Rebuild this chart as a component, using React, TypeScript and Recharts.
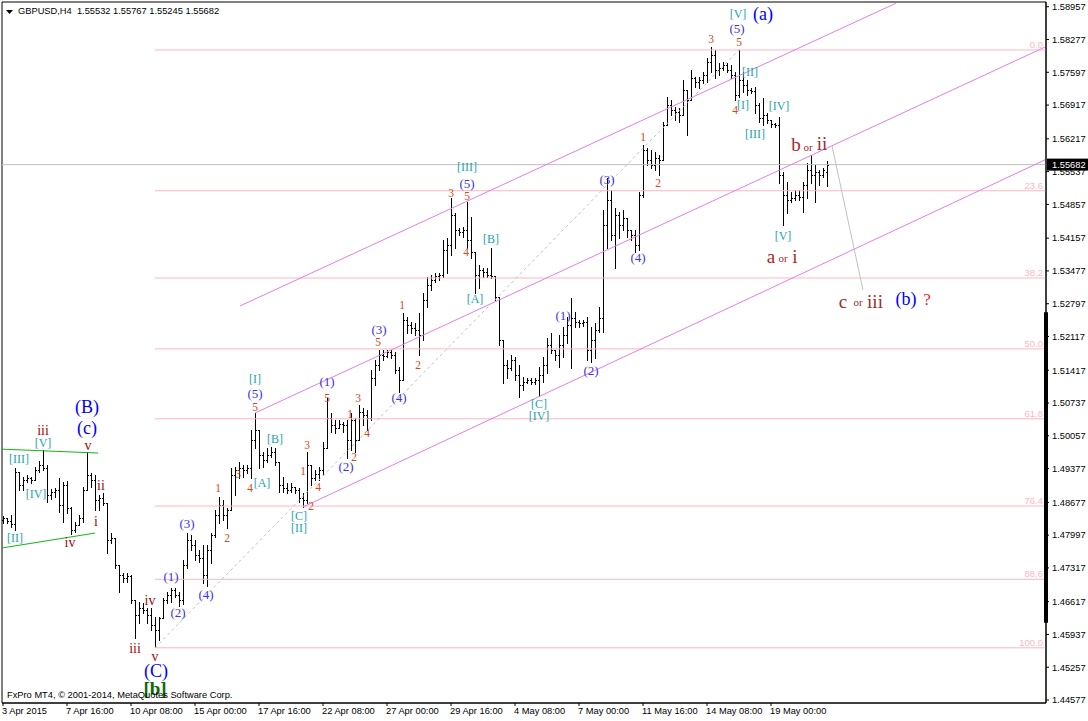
import React from 'react';
import {
  ComposedChart,
  Bar,
  XAxis,
  YAxis,
  ReferenceLine,
  ReferenceDot,
  ReferenceArea,
} from 'recharts';

// GBPUSD H4 bars (3 Apr – 21 May 2015)
const OPEN = [
  1.4831, 1.4835, 1.4829, 1.4823, 1.4931, 1.4904, 1.4914, 1.4918, 1.4914, 1.4935,
  1.4945, 1.4939, 1.4883, 1.4889, 1.4893, 1.4862, 1.4904, 1.4856, 1.4810, 1.4821,
  1.4835, 1.4893, 1.4924, 1.4914, 1.4873, 1.4877, 1.4866, 1.4790, 1.4794, 1.4738,
  1.4717, 1.4711, 1.4715, 1.4665, 1.4634, 1.4649, 1.4644, 1.4634, 1.4613, 1.4603,
  1.4628, 1.4665, 1.4676, 1.4686, 1.4676, 1.4665, 1.4738, 1.4790, 1.4779, 1.4758,
  1.4752, 1.4717, 1.4769, 1.4800, 1.4841, 1.4862, 1.4841, 1.4852, 1.4924, 1.4935,
  1.4939, 1.4935, 1.4939, 1.4997, 1.5018, 1.4966, 1.4956, 1.4966, 1.4972, 1.4951,
  1.4904, 1.4897, 1.4893, 1.4900, 1.4893, 1.4877, 1.4873, 1.4945, 1.4918, 1.4927,
  1.4935, 1.4980, 1.5043, 1.5028, 1.5022, 1.5030, 1.5028, 1.4997, 1.5039, 1.4997,
  1.5055, 1.5049, 1.5043, 1.5126, 1.5153, 1.5173, 1.5171, 1.5180, 1.5173, 1.5142,
  1.5121, 1.5246, 1.5236, 1.5229, 1.5225, 1.5215, 1.5287, 1.5319, 1.5329, 1.5337,
  1.5339, 1.5391, 1.5401, 1.5464, 1.5433, 1.5429, 1.5433, 1.5412, 1.5387, 1.5339,
  1.5350, 1.5346, 1.5339, 1.5337, 1.5294, 1.5204, 1.5153, 1.5146, 1.5163, 1.5132,
  1.5111, 1.5117, 1.5121, 1.5117, 1.5121, 1.5132, 1.5153, 1.5194, 1.5184, 1.5173,
  1.5194, 1.5215, 1.5236, 1.5250, 1.5242, 1.5240, 1.5242, 1.5184, 1.5204, 1.5225,
  1.5250, 1.5443, 1.5495, 1.5422, 1.5464, 1.5443, 1.5457, 1.5433, 1.5422, 1.5401,
  1.5505, 1.5599, 1.5578, 1.5567, 1.5582, 1.5578, 1.5650, 1.5692, 1.5682, 1.5677,
  1.5671, 1.5723, 1.5702, 1.5748, 1.5740, 1.5744, 1.5754, 1.5781, 1.5796, 1.5764,
  1.5769, 1.5775, 1.5764, 1.5754, 1.5713, 1.5744, 1.5733, 1.5723, 1.5721, 1.5692,
  1.5665, 1.5671, 1.5661, 1.5652, 1.5650, 1.5547, 1.5505, 1.5495, 1.5499, 1.5505,
  1.5501, 1.5526, 1.5557, 1.5547, 1.5553, 1.5547, 1.55532,
];

const HIGH = [
  1.4839, 1.4835, 1.4841, 1.4939, 1.4931, 1.4920, 1.4924, 1.4920, 1.4941, 1.4953,
  1.4976, 1.4945, 1.4895, 1.4897, 1.4918, 1.4910, 1.4912, 1.4858, 1.4827, 1.4841,
  1.4900, 1.4972, 1.4929, 1.4924, 1.4883, 1.4887, 1.4866, 1.4804, 1.4794, 1.4738,
  1.4721, 1.4721, 1.4717, 1.4665, 1.4661, 1.4659, 1.4649, 1.4649, 1.4630, 1.4630,
  1.4669, 1.4682, 1.4690, 1.4690, 1.4682, 1.4748, 1.4804, 1.4800, 1.4790, 1.4769,
  1.4779, 1.4779, 1.4804, 1.4852, 1.4879, 1.4873, 1.4856, 1.4939, 1.4941, 1.4951,
  1.4945, 1.4945, 1.5018, 1.5053, 1.5018, 1.4972, 1.4980, 1.4983, 1.4980, 1.4951,
  1.4920, 1.4908, 1.4908, 1.4900, 1.4897, 1.4887, 1.4972, 1.4945, 1.4935, 1.4941,
  1.4993, 1.5084, 1.5053, 1.5039, 1.5039, 1.5034, 1.5039, 1.5053, 1.5043, 1.5070,
  1.5063, 1.5059, 1.5142, 1.5163, 1.5184, 1.5184, 1.5184, 1.5184, 1.5180, 1.5148,
  1.5260, 1.5252, 1.5242, 1.5240, 1.5260, 1.5302, 1.5335, 1.5339, 1.5343, 1.5343,
  1.5412, 1.5416, 1.5499, 1.5468, 1.5437, 1.5439, 1.5491, 1.5460, 1.5387, 1.5360,
  1.5354, 1.5354, 1.5395, 1.5337, 1.5294, 1.5204, 1.5163, 1.5173, 1.5169, 1.5153,
  1.5128, 1.5126, 1.5126, 1.5126, 1.5148, 1.5169, 1.5209, 1.5219, 1.5184, 1.5215,
  1.5231, 1.5252, 1.5292, 1.5263, 1.5246, 1.5246, 1.5252, 1.5231, 1.5240, 1.5273,
  1.5474, 1.5540, 1.5516, 1.5478, 1.5470, 1.5474, 1.5457, 1.5433, 1.5433, 1.5511,
  1.5609, 1.5603, 1.5599, 1.5594, 1.5588, 1.5657, 1.5708, 1.5702, 1.5688, 1.5686,
  1.5744, 1.5723, 1.5764, 1.5750, 1.5750, 1.5760, 1.5789, 1.5812, 1.5806, 1.5779,
  1.5781, 1.5779, 1.5775, 1.5760, 1.5806, 1.5760, 1.5744, 1.5727, 1.5729, 1.5696,
  1.5706, 1.5675, 1.5661, 1.5655, 1.5667, 1.5553, 1.5532, 1.5511, 1.5516, 1.5516,
  1.5532, 1.5572, 1.5588, 1.5567, 1.5557, 1.5561, 1.55767,
];

const LOW = [
  1.4825, 1.4825, 1.4817, 1.4810, 1.4893, 1.4893, 1.4910, 1.4908, 1.4914, 1.4931,
  1.4935, 1.4868, 1.4875, 1.4879, 1.4848, 1.4827, 1.4846, 1.4802, 1.4806, 1.4821,
  1.4827, 1.4893, 1.4900, 1.4852, 1.4852, 1.4862, 1.4763, 1.4783, 1.4732, 1.4682,
  1.4703, 1.4703, 1.4659, 1.4586, 1.4617, 1.4638, 1.4617, 1.4603, 1.4568, 1.4582,
  1.4628, 1.4659, 1.4661, 1.4671, 1.4653, 1.4657, 1.4732, 1.4769, 1.4748, 1.4744,
  1.4700, 1.4694, 1.4742, 1.4796, 1.4825, 1.4831, 1.4815, 1.4852, 1.4883, 1.4918,
  1.4920, 1.4929, 1.4918, 1.4980, 1.4939, 1.4941, 1.4951, 1.4962, 1.4945, 1.4889,
  1.4889, 1.4887, 1.4889, 1.4887, 1.4868, 1.4858, 1.4866, 1.4904, 1.4914, 1.4914,
  1.4924, 1.4980, 1.5014, 1.5012, 1.5022, 1.5014, 1.4960, 1.4976, 1.4972, 1.4997,
  1.5028, 1.5018, 1.5039, 1.5111, 1.5142, 1.5163, 1.5169, 1.5167, 1.5136, 1.5097,
  1.5121, 1.5219, 1.5219, 1.5215, 1.5173, 1.5204, 1.5273, 1.5308, 1.5325, 1.5329,
  1.5335, 1.5343, 1.5381, 1.5395, 1.5422, 1.5418, 1.5395, 1.5375, 1.5302, 1.5312,
  1.5335, 1.5335, 1.5333, 1.5287, 1.5194, 1.5115, 1.5126, 1.5142, 1.5121, 1.5086,
  1.5101, 1.5115, 1.5113, 1.5113, 1.5088, 1.5117, 1.5136, 1.5178, 1.5163, 1.5148,
  1.5169, 1.5198, 1.5146, 1.5231, 1.5231, 1.5233, 1.5163, 1.5159, 1.5167, 1.5221,
  1.5221, 1.5395, 1.5412, 1.5354, 1.5416, 1.5433, 1.5418, 1.5412, 1.5387, 1.5391,
  1.5501, 1.5567, 1.5561, 1.5557, 1.5547, 1.5578, 1.5650, 1.5671, 1.5661, 1.5657,
  1.5671, 1.5630, 1.5702, 1.5729, 1.5727, 1.5738, 1.5740, 1.5760, 1.5748, 1.5754,
  1.5764, 1.5760, 1.5748, 1.5702, 1.5708, 1.5719, 1.5713, 1.5717, 1.5675, 1.5657,
  1.5650, 1.5655, 1.5646, 1.5646, 1.5530, 1.5443, 1.5468, 1.5491, 1.5495, 1.5495,
  1.5470, 1.5499, 1.5530, 1.5491, 1.5526, 1.5543, 1.55245,
];

const CLOSE = [
  1.4835, 1.4829, 1.4823, 1.4931, 1.4904, 1.4914, 1.4918, 1.4914, 1.4935, 1.4945,
  1.4939, 1.4883, 1.4889, 1.4893, 1.4862, 1.4904, 1.4856, 1.4810, 1.4821, 1.4835,
  1.4893, 1.4924, 1.4914, 1.4873, 1.4877, 1.4866, 1.4790, 1.4794, 1.4738, 1.4717,
  1.4711, 1.4715, 1.4665, 1.4634, 1.4649, 1.4644, 1.4634, 1.4613, 1.4603, 1.4628,
  1.4665, 1.4676, 1.4686, 1.4676, 1.4665, 1.4738, 1.4790, 1.4779, 1.4758, 1.4752,
  1.4717, 1.4769, 1.4800, 1.4841, 1.4862, 1.4841, 1.4852, 1.4924, 1.4935, 1.4939,
  1.4935, 1.4939, 1.4997, 1.5018, 1.4966, 1.4956, 1.4966, 1.4972, 1.4951, 1.4904,
  1.4897, 1.4893, 1.4900, 1.4893, 1.4877, 1.4873, 1.4945, 1.4918, 1.4927, 1.4935,
  1.4980, 1.5043, 1.5028, 1.5022, 1.5030, 1.5028, 1.4997, 1.5039, 1.4997, 1.5055,
  1.5049, 1.5043, 1.5126, 1.5153, 1.5173, 1.5171, 1.5180, 1.5173, 1.5142, 1.5121,
  1.5246, 1.5236, 1.5229, 1.5225, 1.5215, 1.5287, 1.5319, 1.5329, 1.5337, 1.5339,
  1.5391, 1.5401, 1.5464, 1.5433, 1.5429, 1.5433, 1.5412, 1.5387, 1.5339, 1.5350,
  1.5346, 1.5339, 1.5337, 1.5294, 1.5204, 1.5153, 1.5146, 1.5163, 1.5132, 1.5111,
  1.5117, 1.5121, 1.5117, 1.5121, 1.5132, 1.5153, 1.5194, 1.5184, 1.5173, 1.5194,
  1.5215, 1.5236, 1.5250, 1.5242, 1.5240, 1.5242, 1.5184, 1.5204, 1.5225, 1.5250,
  1.5443, 1.5495, 1.5422, 1.5464, 1.5443, 1.5457, 1.5433, 1.5422, 1.5401, 1.5505,
  1.5599, 1.5578, 1.5567, 1.5582, 1.5578, 1.5650, 1.5692, 1.5682, 1.5677, 1.5671,
  1.5723, 1.5702, 1.5748, 1.5740, 1.5744, 1.5754, 1.5781, 1.5796, 1.5764, 1.5769,
  1.5775, 1.5764, 1.5754, 1.5713, 1.5744, 1.5733, 1.5723, 1.5721, 1.5692, 1.5665,
  1.5671, 1.5661, 1.5652, 1.5650, 1.5547, 1.5505, 1.5495, 1.5499, 1.5505, 1.5501,
  1.5526, 1.5557, 1.5547, 1.5553, 1.5547, 1.5557, 1.55682,
];

const TIME_TICKS = [0, 16, 32, 48, 64, 80, 96, 112, 128, 144, 160, 176, 192];
const TIME_LABELS = [
  '3 Apr 2015', '7 Apr 16:00', '10 Apr 08:00', '15 Apr 00:00', '17 Apr 16:00',
  '22 Apr 08:00', '27 Apr 00:00', '29 Apr 16:00', '4 May 08:00', '7 May 00:00',
  '11 May 16:00', '14 May 08:00', '19 May 00:00',
];

const PRICE_TICKS = [
  1.58957, 1.58277, 1.57597, 1.56917, 1.56217, 1.55537, 1.54857, 1.54157, 1.53477,
  1.52797, 1.52117, 1.51417, 1.50737, 1.50057, 1.49377, 1.48677, 1.47997, 1.47317,
  1.46617, 1.45937, 1.45257, 1.44577,
];

const LAST_PRICE = 1.55682;

// Fibonacci retracement, drawn from the 13 Apr low
const FIB_LEVELS = [1.5806, 1.5514, 1.5333, 1.5186, 1.5041, 1.486, 1.4708, 1.4566];
const FIB_LABELS = ['0.0', '23.6', '38.2', '50.0', '61.8', '76.4', '88.6', '100.0'];
const FIB_START = 38;

// trend lines as [bar index, price] pairs
const CHANNELS = [
  [[59.25, 1.5275], [223.25, 1.5903]],
  [[63, 1.5053], [260.5, 1.5812]],
  [[75, 1.4858], [260.5, 1.5578]],
];
const TRIANGLE = [
  [[-0.25, 1.4978], [23.75, 1.497]],
  [[-0.25, 1.4773], [23, 1.4804]],
];
const DASHED = [[38, 1.4566], [184, 1.5806]];
const PROJECTION = [[207.25, 1.5607], [215, 1.5308]];
const SCROLL_MARK = [1.4618, 1.5262];

const X_MIN = -0.25;
const X_MAX = 260.75;
const Y_MIN = 1.44515;
const Y_MAX = 1.59055;

const SANS = "'Liberation Sans', Arial, sans-serif";
const SERIF = "'Liberation Serif', 'Times New Roman', serif";

const STYLES: Record<string, { fill: string; size: number; bold?: boolean }> = {
  big: { fill: '#0000ff', size: 18 },
  minor: { fill: '#3c33ee', size: 13 },
  sub: { fill: '#d04a22', size: 11.5 },
  box: { fill: '#1ea5aa', size: 12 },
  roman: { fill: '#a00a0a', size: 14 },
  alt: { fill: '#a52a2a', size: 19 },
  or: { fill: '#a52a2a', size: 11 },
  q: { fill: '#e83030', size: 17 },
  wave: { fill: '#0b6a00', size: 19, bold: true },
};

// Elliott wave labels: [text, bar index, price, style]
const WAVE_LABELS: Array<[string, number, number, string]> = [
  ['(B)', 21, 1.5065, 'big'],
  ['(c)', 21, 1.5022, 'big'],
  ['iii', 10, 1.5016, 'roman'],
  ['[V]', 10, 1.4991, 'box'],
  ['v', 21.25, 1.4985, 'roman'],
  ['[III]', 4, 1.4958, 'box'],
  ['ii', 24.5, 1.4902, 'roman'],
  ['[IV]', 8.25, 1.4885, 'box'],
  ['i', 23.25, 1.4827, 'roman'],
  ['[II]', 3, 1.4794, 'box'],
  ['iv', 16.75, 1.4785, 'roman'],
  ['iii', 33, 1.4564, 'roman'],
  ['iv', 36.75, 1.4665, 'roman'],
  ['v', 38, 1.4547, 'roman'],
  ['(C)', 38.25, 1.4518, 'big'],
  ['[b]', 38, 1.4481, 'wave'],
  ['(1)', 42, 1.4713, 'minor'],
  ['(2)', 43.75, 1.464, 'minor'],
  ['(3)', 46, 1.4823, 'minor'],
  ['(4)', 50.75, 1.4676, 'minor'],
  ['1', 53.75, 1.4897, 'sub'],
  ['2', 56, 1.4794, 'sub'],
  ['3', 58.75, 1.4927, 'sub'],
  ['4', 61.75, 1.4897, 'sub'],
  ['5', 63, 1.5065, 'sub'],
  ['(5)', 63, 1.5094, 'minor'],
  ['[I]', 63, 1.5124, 'box'],
  ['[A]', 64.75, 1.4908, 'box'],
  ['[B]', 68, 1.4999, 'box'],
  ['[C]', 74, 1.4839, 'box'],
  ['[II]', 74, 1.4815, 'box'],
  ['1', 75, 1.4933, 'sub'],
  ['2', 77, 1.486, 'sub'],
  ['3', 76, 1.4987, 'sub'],
  ['4', 78.75, 1.49, 'sub'],
  ['5', 81, 1.5084, 'sub'],
  ['(1)', 81, 1.5119, 'minor'],
  ['(2)', 85.75, 1.4943, 'minor'],
  ['1', 86.75, 1.5051, 'sub'],
  ['2', 87.75, 1.4962, 'sub'],
  ['3', 88.75, 1.5084, 'sub'],
  ['4', 91, 1.5012, 'sub'],
  ['(3)', 94, 1.5227, 'minor'],
  ['5', 93.75, 1.52, 'sub'],
  ['(4)', 99, 1.5086, 'minor'],
  ['1', 99.75, 1.5277, 'sub'],
  ['2', 103.75, 1.5153, 'sub'],
  ['3', 112, 1.5509, 'sub'],
  ['5', 116, 1.5503, 'sub'],
  ['(5)', 116, 1.553, 'minor'],
  ['[III]', 116, 1.5563, 'box'],
  ['4', 115.75, 1.5387, 'sub'],
  ['[B]', 122, 1.5414, 'box'],
  ['[A]', 118, 1.5289, 'box'],
  ['[C]', 134, 1.5072, 'box'],
  ['[IV]', 134, 1.5047, 'box'],
  ['(1)', 140, 1.5256, 'minor'],
  ['(2)', 147, 1.5142, 'minor'],
  ['(3)', 151, 1.5538, 'minor'],
  ['(4)', 158.75, 1.5375, 'minor'],
  ['1', 160, 1.5625, 'sub'],
  ['2', 163.75, 1.553, 'sub'],
  ['3', 177, 1.5829, 'sub'],
  ['5', 184, 1.5823, 'sub'],
  ['(5)', 183.5, 1.585, 'minor'],
  ['[V]', 183.75, 1.5881, 'box'],
  ['(a)', 190, 1.5881, 'big'],
  ['[II]', 186.75, 1.576, 'box'],
  ['[I]', 185, 1.5692, 'box'],
  ['4', 183, 1.5681, 'sub'],
  ['[IV]', 194, 1.569, 'box'],
  ['[III]', 188, 1.5632, 'box'],
  ['[V]', 195, 1.542, 'box'],
  ['b', 198.25, 1.5609, 'alt'],
  ['or', 201.25, 1.5605, 'or'],
  ['ii', 204.75, 1.5611, 'alt'],
  ['a', 192, 1.5377, 'alt'],
  ['or', 195, 1.5375, 'or'],
  ['i', 198, 1.5377, 'alt'],
  ['c', 210, 1.5285, 'alt'],
  ['or', 213.75, 1.5283, 'or'],
  ['iii', 218, 1.5285, 'alt'],
  ['(b)', 225.75, 1.5289, 'big'],
  ['?', 231, 1.5289, 'q'],
];

const bars = OPEN.map((open, i) => ({
  i,
  open,
  high: HIGH[i],
  low: LOW[i],
  close: CLOSE[i],
  range: [LOW[i], HIGH[i]],
}));

// MT4 style bar: vertical high-low line, open tick left, close tick right
const OhlcBar = (props: any) => {
  const { x, y, width, height, payload } = props;
  if (x == null || y == null || !payload) return null;
  const px = Math.round(x + width / 2);
  const top = Math.min(y, y + height);
  const h = Math.abs(height);
  const span = payload.high - payload.low;
  const toY = (v: number) => (span > 0 ? top + ((payload.high - v) / span) * h : top);
  const yo = Math.round(toY(payload.open)) + 0.5;
  const yc = Math.round(toY(payload.close)) + 0.5;
  return (
    <g stroke="#000" strokeWidth={1} shapeRendering="crispEdges">
      <line x1={px + 0.5} x2={px + 0.5} y1={Math.round(top)} y2={Math.round(top + Math.max(h, 1)) + 1} />
      <line x1={px - 1} x2={px} y1={yo} y2={yo} />
      <line x1={px + 1} x2={px + 2} y1={yc} y2={yc} />
    </g>
  );
};

const TimeTick = (props: any) => {
  const { x, y, payload } = props;
  const idx = TIME_TICKS.indexOf(payload.value);
  return (
    <text x={x - 1} y={y} dy="0.71em" textAnchor="start" fontSize={9.3} fontFamily={SANS} fill="#000">
      {TIME_LABELS[idx]}
    </text>
  );
};

const labelShape = (text: string, style: string) => (p: any) => {
  const s = STYLES[style];
  return (
    <text
      x={p.cx}
      y={p.cy}
      textAnchor="middle"
      dominantBaseline="central"
      fontFamily={SERIF}
      fontSize={s.size}
      fontWeight={s.bold ? 'bold' : 'normal'}
      fill={s.fill}
    >
      {text}
    </text>
  );
};

const fibLabel = (text: string) => (p: any) => (
  <text x={p.cx - 3} y={p.cy - 2} textAnchor="end" fontSize={9.5} fontFamily={SANS} fill="#ffb6c1">
    {text}
  </text>
);

const priceBox = (p: any) => (
  <g>
    <rect x={p.cx + 1} y={p.cy - 6} width={42} height={12} fill="#000" />
    <text x={p.cx + 6} y={p.cy} dominantBaseline="central" fontSize={9.3} fontFamily={SANS} fill="#fff">
      {LAST_PRICE.toFixed(5)}
    </text>
  </g>
);

const seg = (pts: number[][]) => pts.map(([x, y]) => ({ x, y }));

export default function App() {
  return (
    <div style={{ position: 'fixed', left: 0, top: 0, width: 1088, height: 721, background: '#fff' }}>
      <ComposedChart
        width={1088}
        height={721}
        data={bars}
        margin={{ top: 2, right: 0, bottom: 0, left: 2 }}
      >
        <XAxis
          type="number"
          dataKey="i"
          domain={[X_MIN, X_MAX]}
          allowDataOverflow
          ticks={TIME_TICKS}
          interval={0}
          height={18}
          tickSize={3}
          tickMargin={1}
          axisLine={{ stroke: '#000' }}
          tickLine={{ stroke: '#000' }}
          tick={<TimeTick />}
        />
        <YAxis
          orientation="right"
          type="number"
          domain={[Y_MIN, Y_MAX]}
          allowDataOverflow
          ticks={PRICE_TICKS}
          interval={0}
          width={42}
          tickSize={3}
          tickMargin={3}
          axisLine={{ stroke: '#000' }}
          tickLine={{ stroke: '#000' }}
          tick={{ fontSize: 9.3, fontFamily: SANS, fill: '#000' }}
          tickFormatter={(v: number) => v.toFixed(5)}
        />

        <ReferenceArea x1={X_MIN} x2={X_MAX} y1={Y_MIN} y2={Y_MAX} fill="none" stroke="#000" />

        {FIB_LEVELS.map((lvl) => (
          <ReferenceLine
            key={`fib-${lvl}`}
            segment={[{ x: FIB_START, y: lvl }, { x: X_MAX, y: lvl }]}
            stroke="#ffb6c1"
          />
        ))}
        {FIB_LEVELS.map((lvl, k) => (
          <ReferenceDot key={`fibl-${lvl}`} x={X_MAX} y={lvl} r={0} shape={fibLabel(FIB_LABELS[k])} />
        ))}

        <ReferenceLine y={LAST_PRICE} stroke="#c0c0c0" />

        {CHANNELS.map((c, k) => (
          <ReferenceLine key={`ch-${k}`} segment={seg(c)} stroke="#e67ee6" />
        ))}
        {TRIANGLE.map((c, k) => (
          <ReferenceLine key={`tr-${k}`} segment={seg(c)} stroke="#14b414" />
        ))}
        <ReferenceLine segment={seg(DASHED)} stroke="#c0c0c0" strokeDasharray="3 3" />
        <ReferenceLine segment={seg(PROJECTION)} stroke="#c0c0c0" />

        <Bar dataKey="range" barSize={3} shape={<OhlcBar />} isAnimationActive={false} />

        {WAVE_LABELS.map(([t, i, p, s], k) => (
          <ReferenceDot key={`w-${k}`} x={i} y={p} r={0} shape={labelShape(t, s)} />
        ))}

        <ReferenceLine
          segment={[{ x: X_MAX, y: SCROLL_MARK[0] }, { x: X_MAX, y: SCROLL_MARK[1] }]}
          stroke="#000"
          strokeWidth={4}
        />
        <ReferenceDot x={X_MAX} y={LAST_PRICE} r={0} shape={priceBox} />
      </ComposedChart>

      <div
        style={{
          position: 'absolute',
          left: 5,
          top: 5,
          fontFamily: SANS,
          fontSize: 9.3,
          lineHeight: '12px',
          whiteSpace: 'pre',
          color: '#000',
        }}
      >
        <svg width={10} height={8} style={{ verticalAlign: 'middle', marginRight: 3 }}>
          <polygon points="1,2 8,2 4.5,6" fill="#000" />
        </svg>
        {'GBPUSD,H4  1.55532 1.55767 1.55245 1.55682'}
      </div>
      <div
        style={{
          position: 'absolute',
          left: 7,
          top: 689,
          fontFamily: SANS,
          fontSize: 9.3,
          lineHeight: '12px',
          whiteSpace: 'pre',
          color: '#000',
        }}
      >
        FxPro MT4, © 2001-2014, MetaQuotes Software Corp.
      </div>
    </div>
  );
}
